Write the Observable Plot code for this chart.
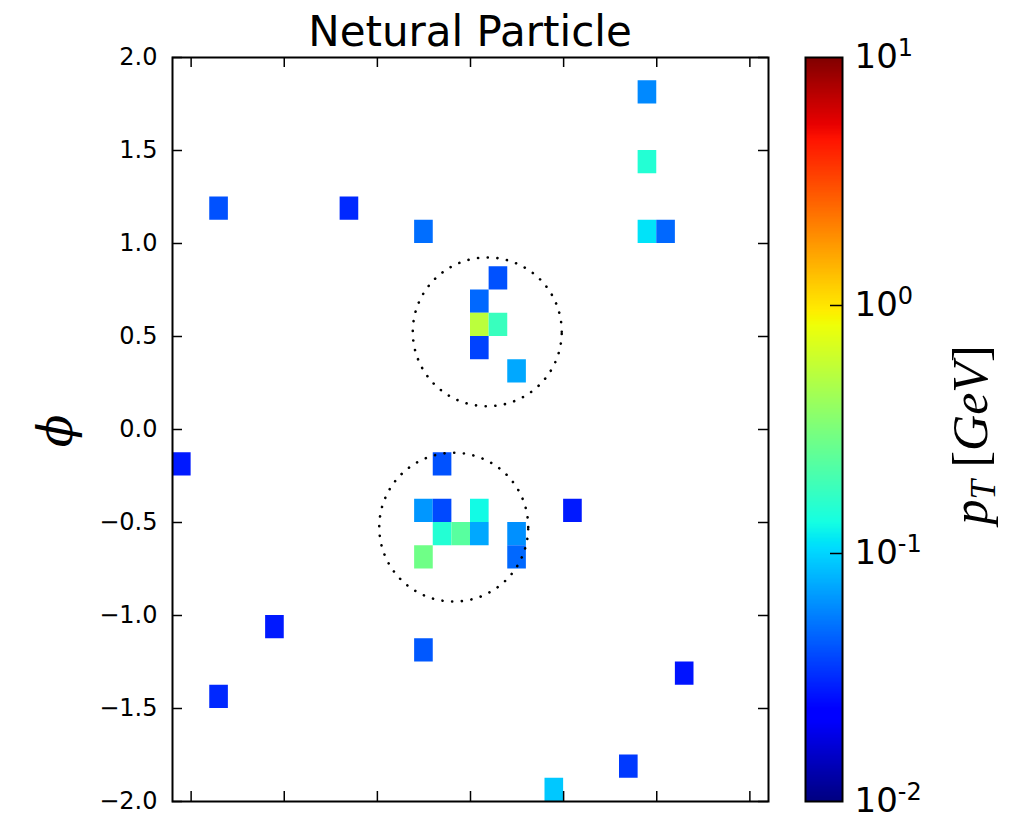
<!DOCTYPE html>
<html><head><meta charset="utf-8">
<script src="https://cdn.jsdelivr.net/npm/d3@7"></script>
<script src="https://cdn.jsdelivr.net/npm/@observablehq/plot@0.6"></script>
<style>
body{margin:0;background:#fff;}
#wrap{position:relative;width:1018px;height:815px;overflow:hidden;background:#fff;}
#wrap svg{position:absolute;top:0;}
</style></head><body><div id="wrap"></div>
<script>
// cell data: lower eta edge, lower phi edge, pT [GeV]
const etaLow = [0.9, 0.9, -1.4, -0.7, -0.3, 0.9, 1.0, 0.1, 0.0, 0.0, 0.1, 0.0, 0.2, -1.6, -0.2, -0.3, -0.2, 0.0, 0.5, -0.2, -0.1, 0.0, 0.2, -0.3, 0.2, -1.1, -0.3, 1.1, -1.4, 0.8, 0.4];
const phiLow = [1.75, 1.375, 1.125, 1.125, 1.0, 1.0, 1.0, 0.75, 0.625, 0.5, 0.5, 0.375, 0.25, -0.25, -0.25, -0.5, -0.5, -0.5, -0.5, -0.625, -0.625, -0.625, -0.625, -0.75, -0.75, -1.125, -1.25, -1.375, -1.5, -1.875, -2.0];
const pT = [0.060, 0.15, 0.041, 0.031, 0.050, 0.11, 0.048, 0.041, 0.048, 0.54, 0.18, 0.037, 0.074, 0.028, 0.041, 0.066, 0.039, 0.13, 0.028, 0.15, 0.234, 0.074, 0.063, 0.286, 0.048, 0.028, 0.043, 0.027, 0.031, 0.035, 0.092];
const etaBin = 0.1, phiBin = 0.125;

// jets (dotted circles)
const jetEta = [0.09, -0.09];
const jetPhi = [0.525, -0.525];
const jetRadius = [0.4, 0.4];

const xTicks = [-1.5, -1, -0.5, 0, 0.5, 1, 1.5];
const yTicks = [-2, -1.5, -1, -0.5, 0, 0.5, 1, 1.5, 2];
const cbTicks = [0.01, 0.1, 1, 10];
const cbTickExp = ["-2", "-1", "0", "1"];

// matplotlib "jet" segment data
const jetRed = [[0, 0], [0.35, 0], [0.66, 1], [0.89, 1], [1, 0.5]];
const jetGreen = [[0, 0], [0.125, 0], [0.375, 1], [0.64, 1], [0.91, 0], [1, 0]];
const jetBlue = [[0, 0.5], [0.11, 1], [0.34, 1], [0.65, 0], [1, 0]];
const seg = s => d3.scaleLinear().domain(s.map(p => p[0])).range(s.map(p => p[1])).clamp(true);
const fr = seg(jetRed), fg = seg(jetGreen), fb = seg(jetBlue);
const jet = t => d3.rgb(255 * fr(t), 255 * fg(t), 255 * fb(t)).toString();

const cells = pT.map((v, i) => ({eta: etaLow[i], phi: phiLow[i], pt: v}));
const circles = [];
jetEta.forEach((cx, i) => {
  d3.range(0, 361, 2).forEach(a => {
    const t = a * Math.PI / 180;
    circles.push({jet: i, x: cx + jetRadius[i] * Math.cos(t), y: jetPhi[i] + jetRadius[i] * Math.sin(t)});
  });
});

const W = 1018, H = 815;
const mL = 172, mR = 250, mT = 57, mB = 14;
const fw = W - mL - mR, fh = H - mT - mB;
const tickLen = 10;

const colorScale = {type: "log", domain: [0.01, 10], interpolate: jet};

const main = Plot.plot({
  width: W, height: H,
  marginLeft: mL, marginRight: mR, marginTop: mT, marginBottom: mB,
  style: {fontFamily: "DejaVu Sans", fontSize: "24px", background: "transparent", color: "black", overflow: "visible"},
  x: {domain: [-1.6, 1.6], axis: null},
  y: {domain: [-2, 2], axis: null},
  color: colorScale,
  marks: [
    Plot.rect(cells, {x1: "eta", x2: d => d.eta + etaBin, y1: "phi", y2: d => d.phi + phiBin, fill: "pt"}),
    Plot.line(circles, {x: "x", y: "y", z: "jet", stroke: "black", strokeWidth: 2.6, strokeDasharray: "0.1,9.6", strokeLinecap: "round"}),
    Plot.tickY(yTicks, {y: d => d, insetRight: fw - tickLen, stroke: "black", strokeWidth: 1.5}),
    Plot.tickY(yTicks, {y: d => d, insetLeft: fw - tickLen, stroke: "black", strokeWidth: 1.5}),
    Plot.tickX(xTicks, {x: d => d, insetTop: fh - tickLen, stroke: "black", strokeWidth: 1.5}),
    Plot.tickX(xTicks, {x: d => d, insetBottom: fh - tickLen, stroke: "black", strokeWidth: 1.5}),
    Plot.axisY({anchor: "left", ticks: yTicks, tickSize: 0, tickPadding: 15, label: null,
      tickFormat: d => d.toFixed(1).replace("-", "\u2212"), fill: "black"}),
    Plot.frame({stroke: "black", strokeWidth: 2})
  ]
});
main.style.left = "0px";

const cbSteps = d3.range(-2, 1, 0.005).map(e => ({lo: Math.pow(10, e), hi: Math.min(10, Math.pow(10, e + 0.007))}));
const cbLeft = 790;
const cbW = 37, cbML = 805 - cbLeft;
const cb = Plot.plot({
  width: 228, height: H,
  marginLeft: cbML, marginRight: 228 - cbML - cbW, marginTop: mT, marginBottom: mB,
  style: {fontFamily: "DejaVu Sans", fontSize: "34px", background: "transparent", color: "black", overflow: "visible"},
  y: {type: "log", domain: [0.01, 10], axis: null},
  color: colorScale,
  marks: [
    Plot.rect(cbSteps, {y1: "lo", y2: "hi", fill: d => Math.sqrt(d.lo * d.hi), shapeRendering: "crispEdges"}),
    Plot.tickY([0.1, 1], {y: d => d, insetLeft: cbW - 12, stroke: "black", strokeWidth: 1.5}),
    Plot.axisY({anchor: "right", ticks: cbTicks, tickSize: 0, tickPadding: 12, label: null,
      tickFormat: d => "10^" + cbTickExp[cbTicks.findIndex(t => Math.abs(t - d) < 1e-9)], fill: "black"}),
    Plot.frame({stroke: "black", strokeWidth: 2})
  ]
});
cb.style.left = cbLeft + "px";

const wrap = document.getElementById("wrap");
wrap.appendChild(main);
wrap.appendChild(cb);

// superscript exponents on colorbar tick labels
d3.select(cb).selectAll("text").each(function () {
  const t = this.textContent;
  if (!t.startsWith("10^")) return;
  const el = d3.select(this);
  el.text("");
  el.append("tspan").text("10");
  el.append("tspan").attr("font-size", 24).attr("dy", "-0.5em").text(t.slice(3));
});

// title and axis labels
const ms = d3.select(main);
ms.append("text").attr("x", mL + fw / 2).attr("y", 46).attr("text-anchor", "middle")
  .attr("font-family", "DejaVu Sans").attr("font-size", 42).attr("fill", "black").text("Netural Particle");
ms.append("text").attr("transform", "translate(55,431) rotate(-90)").attr("text-anchor", "middle")
  .attr("dominant-baseline", "central").attr("font-family", "DejaVu Serif").attr("font-style", "italic")
  .attr("font-size", 48).attr("fill", "black").text("\u03D5");

const lab = d3.select(cb).append("text").attr("transform", "translate(182,435) rotate(-90)")
  .attr("text-anchor", "middle").attr("font-family", "Liberation Serif").attr("font-size", 50).attr("fill", "black")
  .attr("dy", "0.3em");
lab.append("tspan").attr("font-style", "italic").text("p");
lab.append("tspan").attr("font-style", "italic").attr("font-size", 35).attr("dy", 8).text("T");
lab.append("tspan").attr("dy", -8).text(" [");
lab.append("tspan").attr("font-style", "italic").text("GeV");
lab.append("tspan").text("]");
</script>
</body></html>
